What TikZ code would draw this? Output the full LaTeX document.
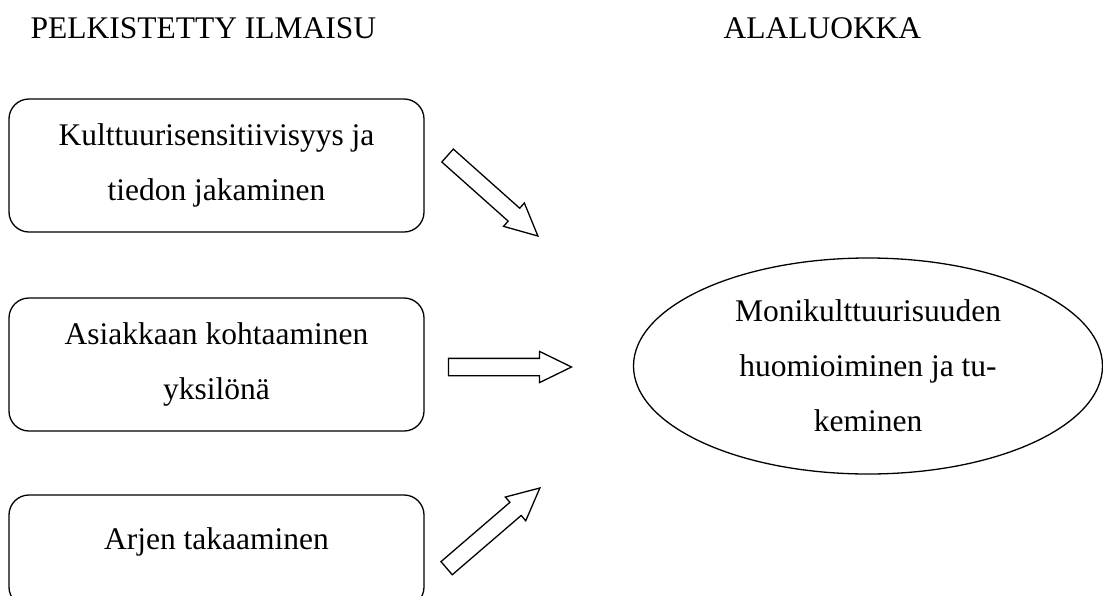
\documentclass[tikz,border=0pt]{standalone}
\usepackage{fontspec}
\setmainfont{Liberation Serif}
\usetikzlibrary{shapes,shapes.arrows}

\begin{document}
\begin{tikzpicture}[x=1pt, y=-1pt]
    \tikzstyle{every node}=[align = center,
				font=\fontsize{31.5}{55}\selectfont]
    \tikzstyle{otsikko} = [anchor=base west]
    \tikzstyle{pelk} = [draw=black, line width=1.3pt, rounded corners=20pt,
				minimum width=415pt, minimum height=133pt, inner sep=0pt]
    \tikzstyle{alal} = [draw=black, line width=1.3pt, ellipse,
				minimum width=469pt, minimum height=216pt, inner sep=0pt]
    \tikzstyle{nuoli} = [draw=black, line width=1.3pt, single arrow, anchor=tip,
				single arrow tip angle=52, single arrow head extend=7pt,
				single arrow head indent=0pt,
				inner xsep=0pt, inner ysep=8pt, minimum width=30pt]
    \useasboundingbox (0,0) rectangle (1103,595);
    % Otsikot
    \node[otsikko] (otsvas) at (27,38) {PELKISTETTY ILMAISU};
    \node[otsikko] (otsoik) at (720,38) {ALALUOKKA};
    % Pelkistetyt ilmaukset
    \node[pelk] (kult) at (216.5,165.5) {Kulttuurisensitiivisyys ja\\tiedon jakaminen};
    \node[pelk] (asia) at (216.5,364.5) {Asiakkaan kohtaaminen\\yksilönä};
    \node[pelk, minimum height=112pt, text height=22pt, text depth=25pt] (arki) at (216.5,551) {Arjen takaaminen};
    % Alaluokka
    \node[alal] (moni) at (868,366) {Monikulttuurisuuden\\huomioiminen ja tu-\\keminen};
    % Nuolet
    \node[nuoli, minimum height=121pt, rotate=-41.7] (n1) at (539,237) {};
    \node[nuoli, minimum height=123pt] (n2) at (573,367) {};
    \node[nuoli, minimum height=123pt, rotate=40.7] (n3) at (541,487) {};
\end{tikzpicture}
\end{document}
